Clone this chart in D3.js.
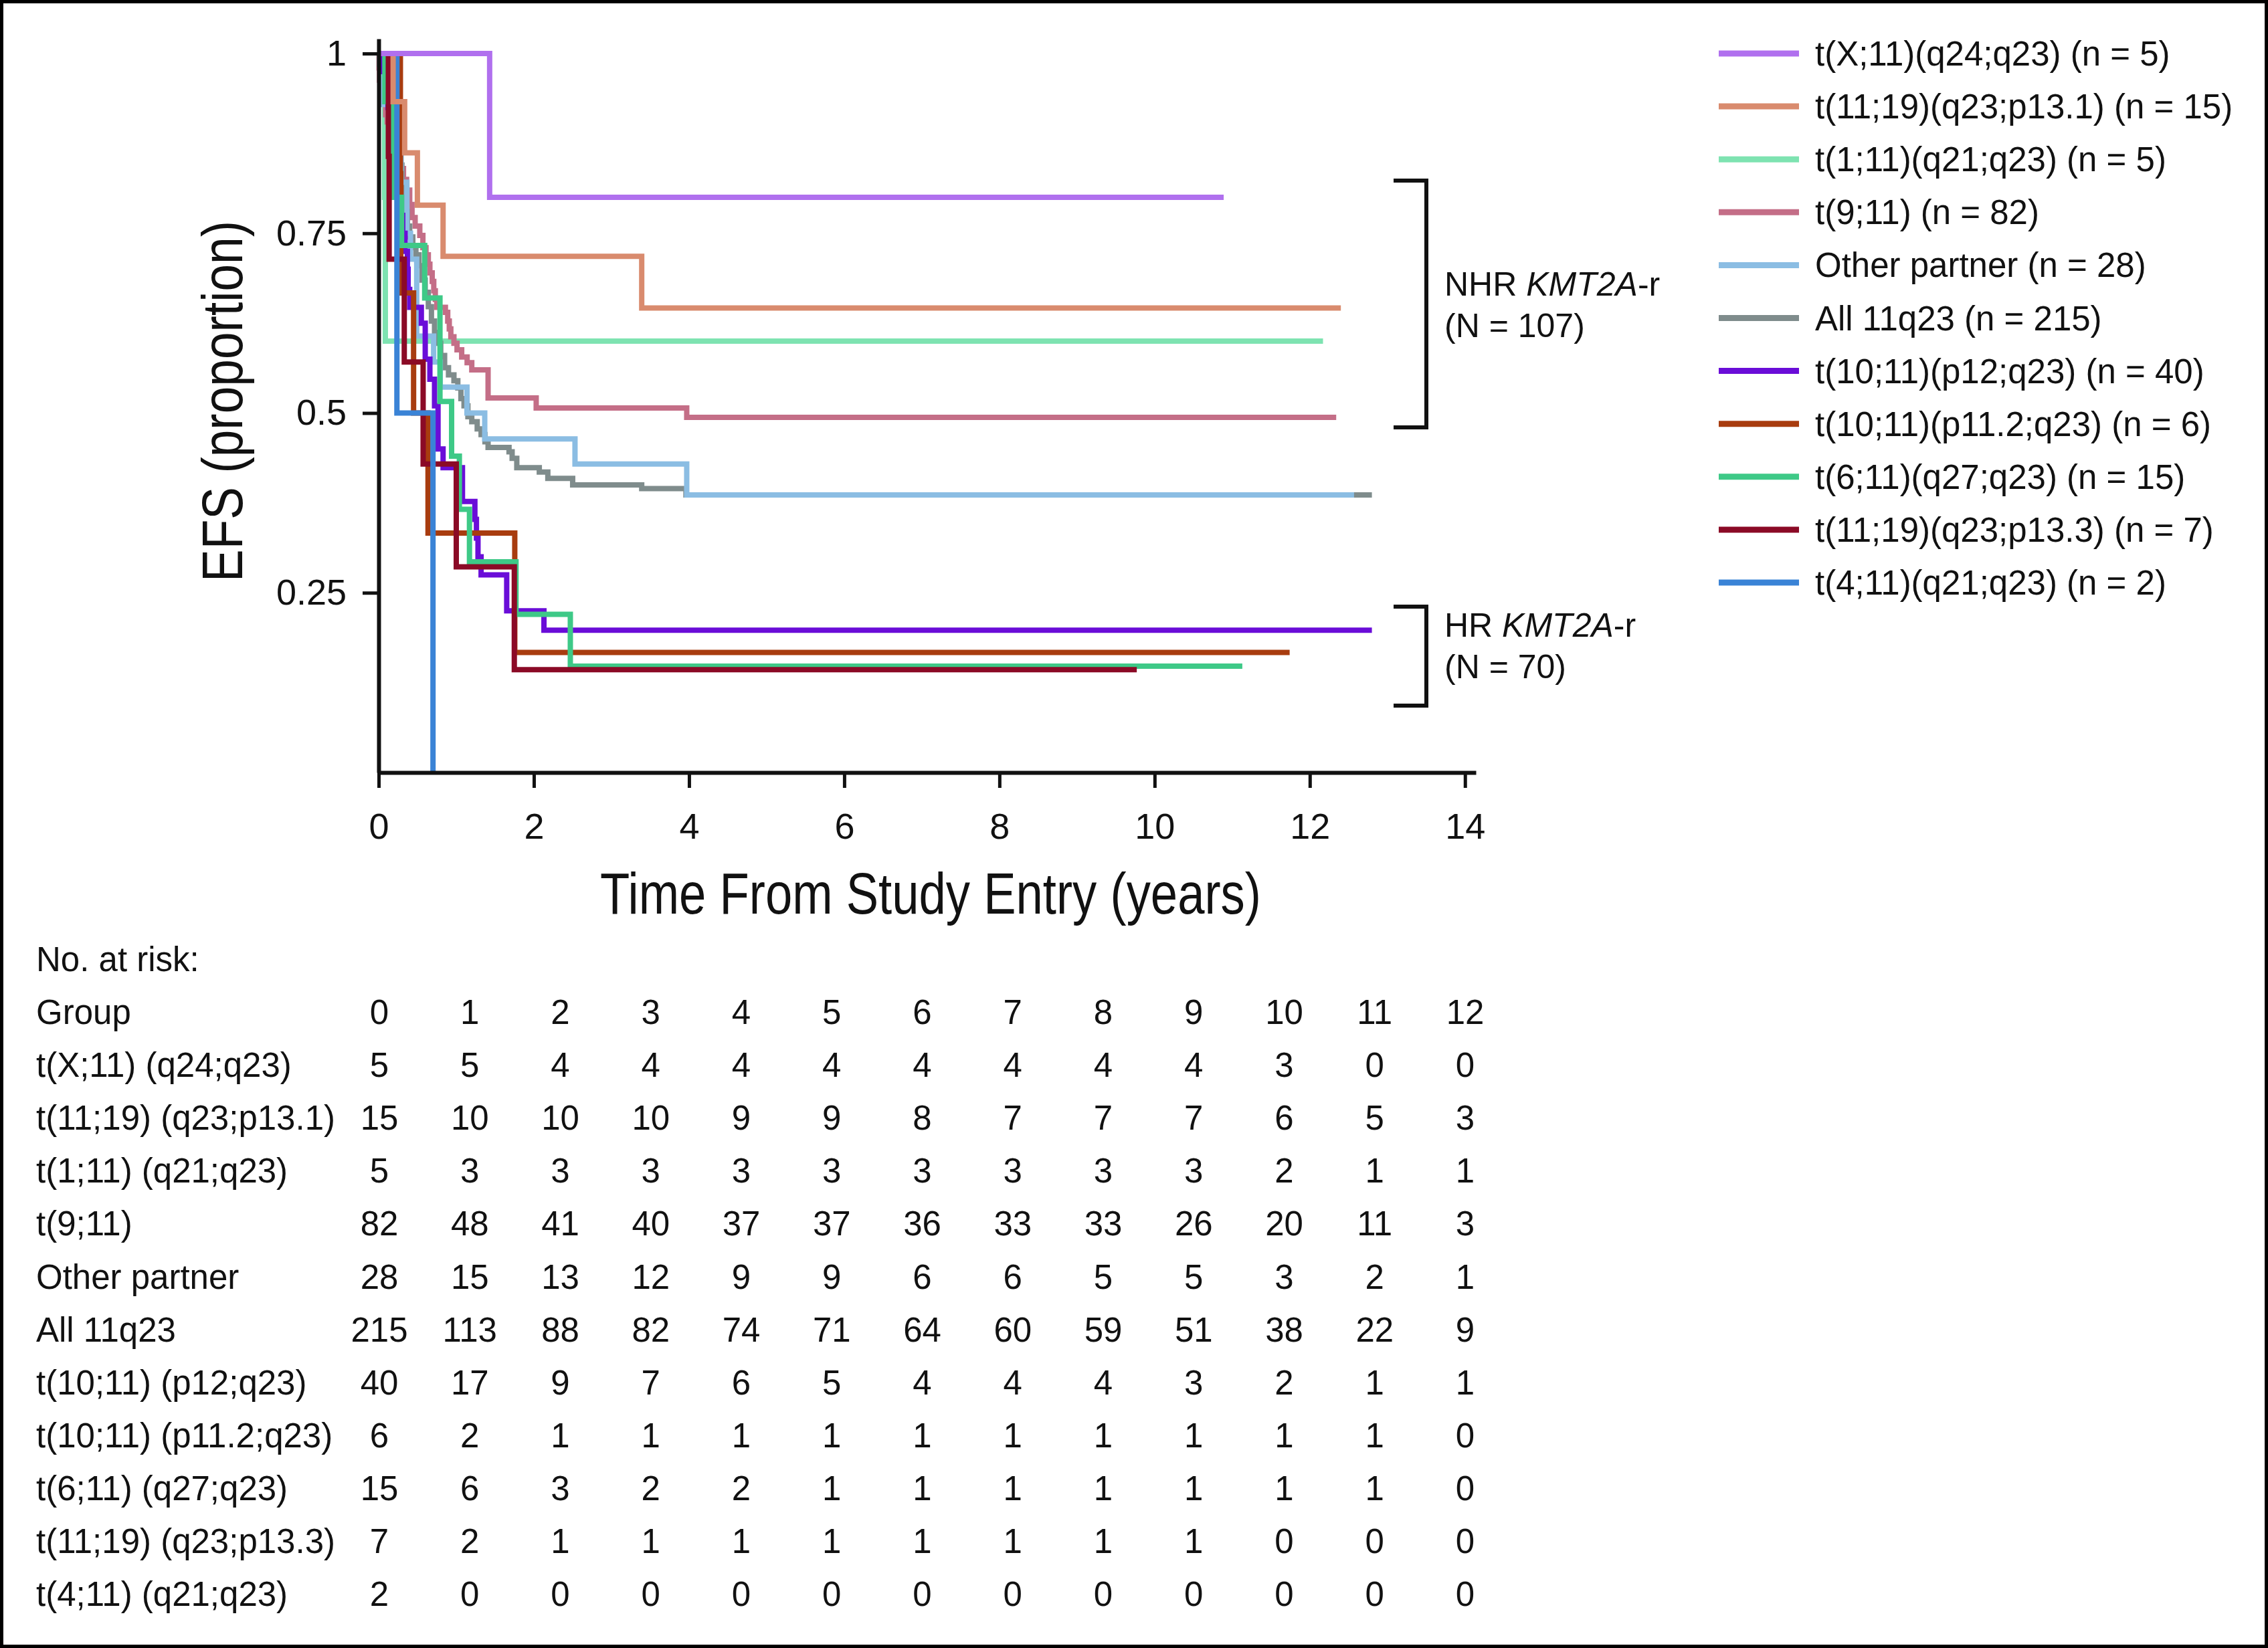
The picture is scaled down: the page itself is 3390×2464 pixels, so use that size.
<!DOCTYPE html>
<html><head><meta charset="utf-8">
<script src="https://cdn.jsdelivr.net/npm/d3@7"></script>
<style>
body{margin:0;background:#fff}
svg{display:block}
text{font-family:"Liberation Sans",Arial,Helvetica,sans-serif;fill:#111}
</style>
</head><body>
<svg id="chart" width="3390" height="2464"></svg>
<script>
// ---------------- DATA ----------------
const legendLabels = [
  "t(X;11)(q24;q23) (n = 5)",
  "t(11;19)(q23;p13.1) (n = 15)",
  "t(1;11)(q21;q23) (n = 5)",
  "t(9;11) (n = 82)",
  "Other partner (n = 28)",
  "All 11q23 (n = 215)",
  "t(10;11)(p12;q23) (n = 40)",
  "t(10;11)(p11.2;q23) (n = 6)",
  "t(6;11)(q27;q23) (n = 15)",
  "t(11;19)(q23;p13.3) (n = 7)",
  "t(4;11)(q21;q23) (n = 2)"
];
const seriesColors = ["#b070ee","#d98b6e","#7ee3b1","#c46e87","#8bbde3","#7f8c8c","#6a0dd8","#a83c0f","#3ec987","#8b0a26","#3a83d6"];

// Kaplan-Meier step points [years, EFS]; last point = end of follow-up
const curveX11 = [[0,1],[1.43,0.8],[10.89,0.8]];
const curve1119p131 = [[0,1],[0.186,0.933],[0.335,0.862],[0.499,0.789],[0.83,0.718],[3.39,0.646],[12.40,0.646]];
const curve111 = [[0,1],[0.075,0.8],[0.086,0.6],[12.17,0.6]];
const curve911 = [[0,1],[0.005,0.98],[0.01,0.963],[0.02,0.95],[0.03,0.94],[0.05,0.93],[0.09,0.915],[0.11,0.905],[0.15,0.89],[0.17,0.878],[0.2,0.866],[0.24,0.854],[0.28,0.84],[0.32,0.825],[0.36,0.81],[0.4,0.79],[0.43,0.772],[0.47,0.76],[0.53,0.747],[0.57,0.73],[0.61,0.72],[0.64,0.707],[0.66,0.695],[0.69,0.683],[0.71,0.67],[0.73,0.658],[0.75,0.647],[0.86,0.64],[0.89,0.628],[0.91,0.617],[0.93,0.606],[0.97,0.597],[1.01,0.588],[1.07,0.578],[1.14,0.57],[1.2,0.56],[1.41,0.521],[2.03,0.507],[3.97,0.494],[12.34,0.494]];
const curveOther = [[0,1],[0.04,0.929],[0.22,0.893],[0.29,0.821],[0.364,0.75],[0.41,0.714],[0.49,0.607],[0.708,0.571],[0.794,0.536],[1.138,0.5],[1.367,0.464],[2.53,0.429],[3.97,0.386],[12.57,0.386]];
const curveAll = [[0,1],[0.01,0.985],[0.03,0.975],[0.05,0.962],[0.08,0.95],[0.1,0.935],[0.13,0.925],[0.17,0.912],[0.2,0.9],[0.23,0.885],[0.26,0.87],[0.28,0.845],[0.3,0.82],[0.32,0.8],[0.34,0.78],[0.37,0.76],[0.4,0.745],[0.44,0.73],[0.48,0.72],[0.52,0.705],[0.56,0.685],[0.6,0.668],[0.64,0.648],[0.68,0.628],[0.72,0.612],[0.76,0.597],[0.8,0.58],[0.85,0.563],[0.9,0.553],[0.97,0.545],[1.02,0.535],[1.06,0.52],[1.1,0.51],[1.15,0.495],[1.2,0.488],[1.27,0.478],[1.32,0.47],[1.37,0.46],[1.41,0.452],[1.68,0.446],[1.72,0.437],[1.78,0.424],[2.07,0.418],[2.18,0.409],[2.5,0.4],[3.39,0.395],[3.96,0.386],[12.8,0.386]];
const curve1011p12 = [[0,1],[0.05,0.975],[0.1,0.95],[0.12,0.925],[0.13,0.9],[0.16,0.875],[0.2,0.85],[0.23,0.825],[0.26,0.8],[0.29,0.775],[0.31,0.75],[0.34,0.725],[0.37,0.7],[0.38,0.672],[0.40,0.647],[0.55,0.625],[0.60,0.575],[0.66,0.547],[0.72,0.51],[0.765,0.45],[0.83,0.424],[1.08,0.377],[1.24,0.352],[1.26,0.326],[1.28,0.3],[1.32,0.275],[1.65,0.225],[2.13,0.198],[12.8,0.198]];
const curve1011p112 = [[0,1],[0.28,0.833],[0.285,0.667],[0.45,0.5],[0.636,0.333],[1.754,0.167],[11.74,0.167]];
const curve611 = [[0,1],[0.08,0.933],[0.18,0.867],[0.185,0.8],[0.295,0.733],[0.593,0.66],[0.79,0.516],[0.94,0.44],[1.04,0.366],[1.17,0.293],[1.77,0.22],[2.47,0.148],[11.13,0.148]];
const curve1119p133 = [[0,1],[0.125,0.857],[0.135,0.714],[0.33,0.571],[0.573,0.429],[1.0,0.286],[1.748,0.143],[9.77,0.143]];
const curve411 = [[0,1],[0.235,0.5],[0.70,0]];

const curves = [curveX11, curve1119p131, curve111, curve911, curveOther, curveAll, curve1011p12, curve1011p112, curve611, curve1119p133, curve411];
const drawOrder = [2,3,5,4,6,7,8,9,10,1,0];

const xTicks = [0,2,4,6,8,10,12,14];
const yTicks = [0.25,0.5,0.75,1];

// number at risk table
const riskTimes = [0,1,2,3,4,5,6,7,8,9,10,11,12];
const riskGroups = ["t(X;11) (q24;q23)","t(11;19) (q23;p13.1)","t(1;11) (q21;q23)","t(9;11)","Other partner","All 11q23","t(10;11) (p12;q23)","t(10;11) (p11.2;q23)","t(6;11) (q27;q23)","t(11;19) (q23;p13.3)","t(4;11) (q21;q23)"];
const riskX11 = [5,5,4,4,4,4,4,4,4,4,3,0,0];
const risk1119p131 = [15,10,10,10,9,9,8,7,7,7,6,5,3];
const risk111 = [5,3,3,3,3,3,3,3,3,3,2,1,1];
const risk911 = [82,48,41,40,37,37,36,33,33,26,20,11,3];
const riskOther = [28,15,13,12,9,9,6,6,5,5,3,2,1];
const riskAll = [215,113,88,82,74,71,64,60,59,51,38,22,9];
const risk1011p12 = [40,17,9,7,6,5,4,4,4,3,2,1,1];
const risk1011p112 = [6,2,1,1,1,1,1,1,1,1,1,1,0];
const risk611 = [15,6,3,2,2,1,1,1,1,1,1,1,0];
const risk1119p133 = [7,2,1,1,1,1,1,1,1,1,0,0,0];
const risk411 = [2,0,0,0,0,0,0,0,0,0,0,0,0];
const riskValues = [riskX11, risk1119p131, risk111, risk911, riskOther, riskAll, risk1011p12, risk1011p112, risk611, risk1119p133, risk411];

// ---------------- DRAW ----------------
const svg = d3.select("#chart");
svg.append("rect").attr("x",2.5).attr("y",2.5).attr("width",3385).attr("height",2459)
  .attr("fill","#fff").attr("stroke","#000").attr("stroke-width",5);

const x = d3.scaleLinear().domain([0,14.14]).range([566,2206]);
const y = d3.scaleLinear().domain([0,1.0205]).range([1155,58]);

// curves
const line = d3.line().x(d=>x(d[0])).y(d=>y(d[1])).curve(d3.curveStepAfter);
const gCurves = svg.append("g");
drawOrder.forEach(i=>{
  gCurves.append("path").attr("d",line(curves[i]))
    .attr("fill","none").attr("stroke",seriesColors[i])
    .attr("stroke-width",8).attr("stroke-linejoin","miter").attr("stroke-linecap","butt");
});

// axes
const xAxis = d3.axisBottom(x).tickValues(xTicks).tickSize(23).tickPadding(38).tickSizeOuter(0).tickFormat(d=>String(d));
const gx = svg.append("g").attr("transform","translate(0,1155)").call(xAxis);
const yAxis = d3.axisLeft(y).tickValues(yTicks).tickSize(24).tickPadding(24).tickSizeOuter(0).tickFormat(d=>String(d));
const gy = svg.append("g").attr("transform","translate(566,0)").call(yAxis);
[gx,gy].forEach(g=>{
  g.select(".domain").attr("stroke","#111").attr("stroke-width",6);
  g.selectAll(".tick line").attr("stroke","#111").attr("stroke-width",5);
  g.selectAll(".tick text").attr("font-size",54).attr("font-family","Liberation Sans, Arial, sans-serif").attr("fill","#111");
});

// axis titles
svg.append("text").attr("x",1391).attr("y",1366).attr("text-anchor","middle")
  .attr("font-size",88).attr("textLength",988).attr("lengthAdjust","spacingAndGlyphs")
  .text("Time From Study Entry (years)");
svg.append("text").attr("transform","translate(362,600) rotate(-90)").attr("text-anchor","middle")
  .attr("font-size",85).attr("textLength",540).attr("lengthAdjust","spacingAndGlyphs")
  .text("EFS (proportion)");

// brackets
const brackets = [{top:270,bottom:639,l1:["NHR ","KMT2A","-r"],l2:"(N = 107)",base:442},
                  {top:907,bottom:1055,l1:["HR ","KMT2A","-r"],l2:"(N = 70)",base:952}];
brackets.forEach(b=>{
  svg.append("path").attr("d",`M2083,${b.top}H2132V${b.bottom}H2083`)
    .attr("fill","none").attr("stroke","#111").attr("stroke-width",6);
  const t = svg.append("text").attr("x",2159).attr("y",b.base).attr("font-size",50);
  t.append("tspan").text(b.l1[0]);
  t.append("tspan").attr("font-style","italic").text(b.l1[1]);
  t.append("tspan").text(b.l1[2]);
  svg.append("text").attr("x",2159).attr("y",b.base+62).attr("font-size",50).text(b.l2);
});

// legend
const gLeg = svg.append("g");
legendLabels.forEach((lab,i)=>{
  const cy = 80 + i*79.1;
  gLeg.append("line").attr("x1",2569).attr("x2",2689).attr("y1",cy).attr("y2",cy)
    .attr("stroke",seriesColors[i]).attr("stroke-width",9);
  gLeg.append("text").attr("x",2713).attr("y",cy+18).attr("font-size",51).text(lab);
});

// risk table
const col = d3.scalePoint().domain(riskTimes).range([567,2190]);
const rowY = i => 1513 + i*79.1;
const gT = svg.append("g");
gT.append("text").attr("x",54).attr("y",rowY(-1)+18).attr("font-size",51).text("No. at risk:");
gT.append("text").attr("x",54).attr("y",rowY(0)+18).attr("font-size",51).text("Group");
riskTimes.forEach(t=>{
  gT.append("text").attr("x",col(t)).attr("y",rowY(0)+18).attr("text-anchor","middle").attr("font-size",51).text(t);
});
riskGroups.forEach((g,r)=>{
  gT.append("text").attr("x",54).attr("y",rowY(r+1)+18).attr("font-size",51).text(g);
  riskValues[r].forEach((v,k)=>{
    gT.append("text").attr("x",col(riskTimes[k])).attr("y",rowY(r+1)+18).attr("text-anchor","middle").attr("font-size",51).text(v);
  });
});
</script>
</body></html>
